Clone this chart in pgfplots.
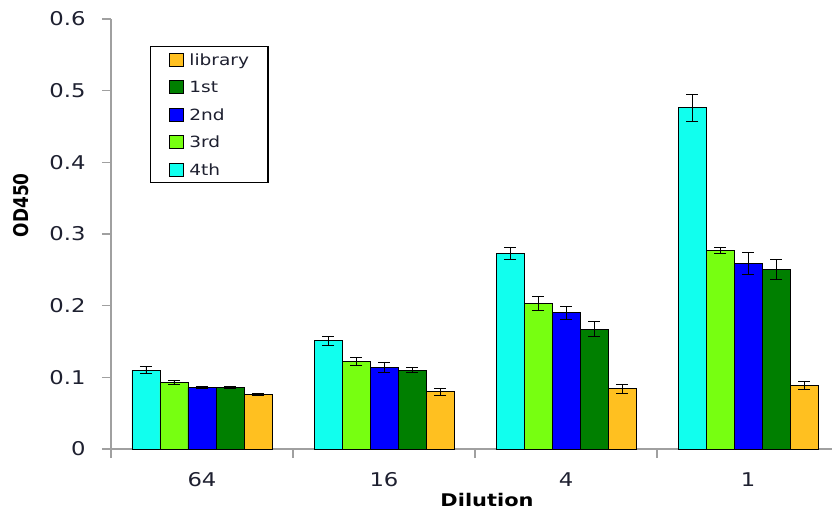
\documentclass[border=0pt]{standalone}
\usepackage{fontspec}
\setmainfont{DejaVu Sans}
\newfontfamily\wf{DejaVu Sans}[FakeStretch=1.2]
\usepackage{graphicx}
\usepackage{pgfplots}
\pgfplotsset{compat=1.18}
\definecolor{cCyan}{HTML}{11FFEE}
\definecolor{cLime}{HTML}{77FF11}
\definecolor{cBlue}{HTML}{0000FF}
\definecolor{cDGreen}{HTML}{007F00}
\definecolor{cOrange}{HTML}{FFC020}
\definecolor{axgray}{HTML}{A0A0A0}
\definecolor{txt}{HTML}{1E2030}
\pgfplotsset{
  sqleg/.style={legend image code/.code={\draw[##1,line width=0.9pt] (0bp,-6.5bp) rectangle (14bp,6.5bp);}},
  barsty/.style={fill=#1, draw=black, line width=0.9pt, sqleg,
    error bars/.cd, y dir=both, y explicit,
    error bar style={black, line width=1pt},
    error mark options={rotate=90, mark size=6bp, line width=1pt, black}},
}
\begin{document}
\begin{tikzpicture}
\path[use as bounding box] (-111bp,-62bp) rectangle (721bp,449bp);
\begin{axis}[
  at={(0,0)}, anchor=south west,
  scale only axis, width=721bp, height=430bp,
  xmin=-0.5, xmax=3.4615, ymin=0, ymax=0.6,
  axis x line*=bottom, axis y line*=left,
  axis line style={-, draw=axgray, line width=1.2pt},
  ybar=0pt, bar width=28bp,
  xtick={-0.5,0.5,1.5,2.5}, xticklabels={},
  extra x ticks={0,1,2,3}, extra x tick labels={64,16,4,1},
  extra x tick style={major tick length=0pt},
  ytick={0,0.1,0.2,0.3,0.4,0.5,0.6},
  yticklabels={0,0.1,0.2,0.3,0.4,0.5,0.6},
  tick align=outside, major tick length=9bp,
  tick style={draw=axgray, line width=1.2pt},
  tick label style={font=\wf\fontsize{19}{22}\selectfont, text=txt},
  xticklabel style={yshift=-20bp},
  yticklabel style={xshift=-13bp},
  /pgf/number format/assume math mode=true,
  ylabel={\scalebox{1}[1.2]{\bfseries OD450}},
  ylabel style={at={(axis description cs:-0.125,0.567)}, anchor=center, rotate=0, font=\fontsize{17}{20}\selectfont, text=black},
  xlabel={\textbf{Dilution}},
  xlabel style={at={(axis description cs:0.5215,-0.119)}, anchor=center, font=\wf\fontsize{17.5}{20}\selectfont, text=black},
  reverse legend,
  legend cell align=left,
  legend style={at={(axis description cs:0.054,0.937)}, anchor=north west,
    draw=black, line width=1.1pt, font=\wf\fontsize{15.5}{18}\selectfont, text=txt,
    nodes={inner sep=0pt, text height=11bp, text depth=0bp},
    inner xsep=19bp, inner ysep=6bp, row sep=13.6bp, column sep=5bp},
]
\addplot[barsty=cCyan] coordinates {(0,0.110) +- (0,0.005) (1,0.151) +- (0,0.006) (2,0.273) +- (0,0.008) (3,0.476) +- (0,0.019)};
\addplot[barsty=cLime] coordinates {(0,0.093) +- (0,0.003) (1,0.122) +- (0,0.005) (2,0.203) +- (0,0.010) (3,0.277) +- (0,0.004)};
\addplot[barsty=cBlue] coordinates {(0,0.086) +- (0,0.001) (1,0.114) +- (0,0.007) (2,0.190) +- (0,0.0095) (3,0.259) +- (0,0.015)};
\addplot[barsty=cDGreen] coordinates {(0,0.086) +- (0,0.001) (1,0.110) +- (0,0.0035) (2,0.167) +- (0,0.0105) (3,0.250) +- (0,0.014)};
\addplot[barsty=cOrange] coordinates {(0,0.076) +- (0,0.002) (1,0.080) +- (0,0.0047) (2,0.084) +- (0,0.0065) (3,0.089) +- (0,0.0053)};
\legend{4th,3rd,2nd,1st,library}
\end{axis}
\end{tikzpicture}
\end{document}
